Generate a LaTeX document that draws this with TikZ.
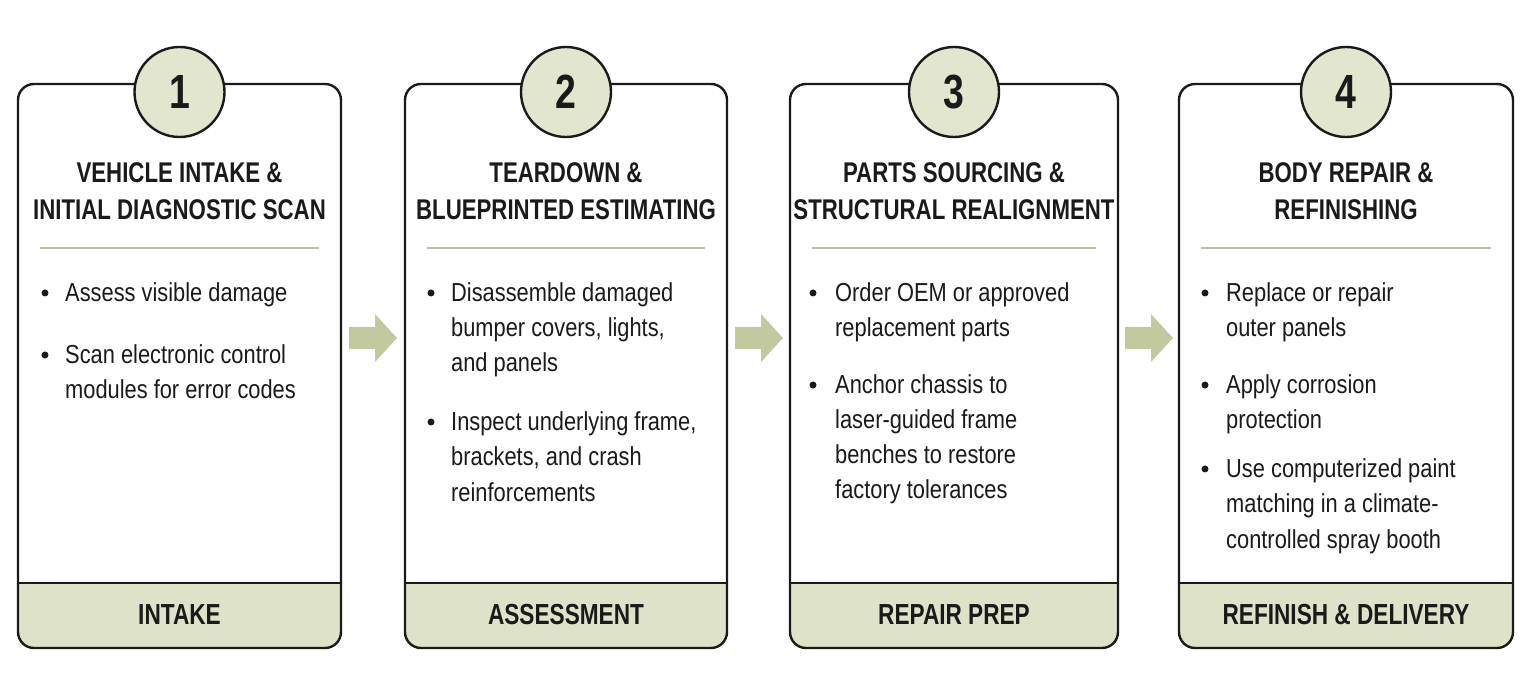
\documentclass[tikz,border=0pt]{standalone}
\usepackage{fontspec}
\setmainfont{Liberation Sans}[FakeStretch=0.84,BoldFeatures={FakeStretch=0.78}]
\begin{document}
\definecolor{pale}{HTML}{E3E6CF}
\definecolor{band}{HTML}{DEE2C8}
\definecolor{rule}{HTML}{B9C09B}
\definecolor{arr}{HTML}{C3C99F}
\definecolor{ink}{HTML}{1A1A1A}
\begin{tikzpicture}[x=1pt,y=-1pt,
  box/.style={draw=ink,line width=2.4pt,rounded corners=16pt},
  num/.style={circle,draw=ink,line width=2.4pt,fill=pale,minimum size=90pt,inner sep=0pt,font=\fontsize{48}{48}\selectfont\bfseries,text=ink},
  ttl/.style={anchor=base,inner sep=0pt,font=\fontsize{28.5}{30}\selectfont\bfseries,text=ink},
  lbl/.style={font=\fontsize{29}{30}\selectfont\bfseries,text=ink},
  bt/.style={anchor=base west,inner sep=0pt,font=\fontsize{26}{30}\selectfont,text=ink},
  dot/.style={circle,fill=ink,inner sep=0pt,minimum size=7pt},
  blk/.style={fill=arr,draw=none}]
\useasboundingbox (0,0) rectangle (1535,684);
\fill[white] (0,0) rectangle (1535,684);
\newcommand{\stage}[7]{%
 \begin{scope}
 \clip[rounded corners=16pt] (#2,84) rectangle (#3,648);
 \fill[band] (#2,583) rectangle (#3,648);
 \end{scope}
 \draw[box] (#2,84) rectangle (#3,648);
 \draw[ink,line width=2pt] (#2,583) -- (#3,583);
 \coordinate (#1c) at ({(#2+#3)/2},92);
 \node[num] (#1n) at (#1c) {#4};
 \node[ttl] (#1t1) at ({(#2+#3)/2},183) {#5};
 \node[ttl] (#1t2) at ({(#2+#3)/2},220) {#6};
 \draw[rule,line width=2pt] ({#2+22},248) -- ({#3-22},248);
 \node[lbl] (#1l) at ({(#2+#3)/2},615) {#7};
}
\newcommand{\bul}[5]{% name dotx textx baseline lines
 \node[dot] (#1d) at (#2,{#4-9}) {};
 \foreach \l [count=\i] in {#5}{
  \node[bt] (#1-\i) at (#3,{#4+35*(\i-1)}) {\l};
 }
}
\stage{a}{18}{341}{1}{VEHICLE INTAKE \&}{INITIAL DIAGNOSTIC SCAN}{INTAKE}
\stage{b}{405}{727}{2}{TEARDOWN \&}{BLUEPRINTED ESTIMATING}{ASSESSMENT}
\stage{c}{790}{1118}{3}{PARTS SOURCING \&}{STRUCTURAL REALIGNMENT}{REPAIR PREP}
\stage{d}{1179}{1513}{4}{BODY REPAIR \&}{REFINISHING}{REFINISH \& DELIVERY}
\bul{a1}{45}{65}{302}{Assess visible damage}
\bul{a2}{45}{65}{364}{Scan electronic control,modules for error codes}
\bul{b1}{431}{451}{302}{Disassemble damaged,{bumper covers, lights,},and panels}
\bul{b2}{431}{451}{431}{{Inspect underlying frame,},{brackets, and crash},reinforcements}
\bul{c1}{813}{835}{302}{Order OEM or approved,replacement parts}
\bul{c2}{813}{835}{394}{Anchor chassis to,laser-guided frame,benches to restore,factory tolerances}
\bul{d1}{1205}{1226}{302}{Replace or repair,outer panels}
\bul{d2}{1205}{1226}{394}{Apply corrosion,protection}
\bul{d3}{1205}{1226}{478}{Use computerized paint,matching in a climate-,controlled spray booth}
\foreach \x in {349,735,1125}{
 \fill[arr] (\x,327) -- (\x+26,327) -- (\x+26,314) -- (\x+48,338) -- (\x+26,362) -- (\x+26,349) -- (\x,349) -- cycle;
}
\end{tikzpicture}
\end{document}
